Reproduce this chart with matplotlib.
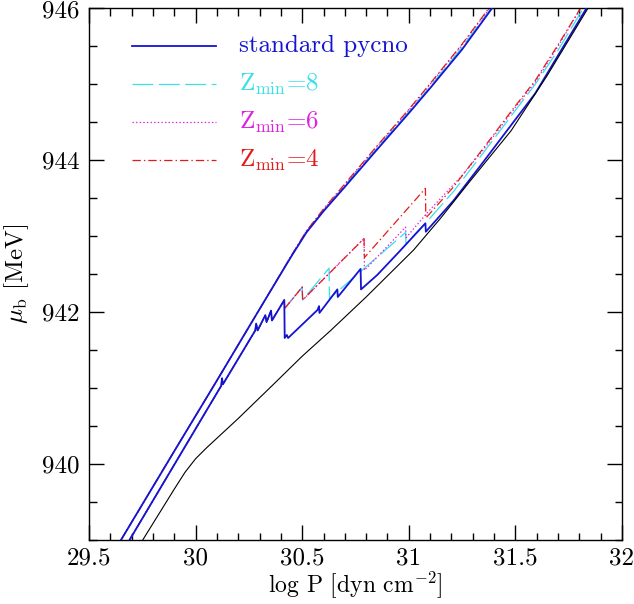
import matplotlib
matplotlib.use("Agg")
import matplotlib.pyplot as plt
from matplotlib.ticker import MultipleLocator, FuncFormatter

plt.rcParams.update({
    "font.family": "serif",
    "font.serif": ["cmr10"],
    "mathtext.fontset": "cm",
    "axes.formatter.use_mathtext": True,
    "lines.scale_dashes": False,
})

BLUE = "#1414d2"
CYAN = "#38e0e8"
MAGENTA = "#e020e0"
RED = "#e41a1a"

# ---- upper branch (all compositions nearly coincide) ----
upper_std_x = [29.65, 29.90, 30.10, 30.30, 30.45, 30.52, 30.60, 30.70, 30.86, 31.00, 31.10, 31.25, 31.39]
upper_std_y = [939.0, 940.17, 941.10, 942.04, 942.74, 943.05, 943.33, 943.65, 944.17, 944.62, 944.95, 945.46, 946.0]
upper_z8_x = [29.65, 29.90, 30.10, 30.30, 30.45, 30.52, 30.60, 30.70, 30.86, 31.00, 31.10, 31.25, 31.385]
upper_z8_y = [939.0, 940.17, 941.10, 942.04, 942.74, 943.06, 943.34, 943.67, 944.19, 944.64, 944.97, 945.49, 946.0]
upper_z6_x = [29.65, 29.90, 30.10, 30.30, 30.45, 30.52, 30.60, 30.70, 30.86, 31.00, 31.10, 31.25, 31.378]
upper_z6_y = [939.0, 940.17, 941.10, 942.04, 942.75, 943.07, 943.35, 943.68, 944.21, 944.66, 945.00, 945.52, 946.0]
upper_z4_x = [29.65, 29.90, 30.10, 30.30, 30.45, 30.52, 30.60, 30.70, 30.86, 31.00, 31.10, 31.25, 31.375]
upper_z4_y = [939.0, 940.17, 941.10, 942.04, 942.75, 943.07, 943.36, 943.69, 944.22, 944.67, 945.01, 945.53, 946.0]

# ---- lower branch with sawtooth ----
lower_shared_x = [29.69, 30.120, 30.124, 30.128, 30.280, 30.284, 30.291, 30.327, 30.333, 30.354, 30.358, 30.416]
lower_shared_y = [939.0, 941.03, 941.13, 941.05, 941.76, 941.85, 941.76, 941.96, 941.87, 942.02, 941.89, 942.16]

std_tail_x = [30.418, 30.428, 30.434, 30.572, 30.579, 30.581, 30.665, 30.667, 30.774, 30.776, 30.852,
              30.953, 31.078, 31.080, 31.21, 31.35, 31.498, 31.593, 31.70, 31.833]
std_tail_y = [941.66, 941.70, 941.66, 942.03, 942.08, 941.99, 942.30, 942.20, 942.57, 942.30, 942.49,
              942.79, 943.17, 943.06, 943.47, 943.98, 944.53, 944.88, 945.38, 946.0]

z8_tail_x = [30.418, 30.500, 30.502, 30.626, 30.628, 30.985, 30.987, 31.10, 31.21, 31.35, 31.498, 31.593, 31.70, 31.818]
z8_tail_y = [942.05, 942.33, 942.16, 942.58, 942.18, 943.05, 942.90, 943.24, 943.59, 944.10, 944.65, 945.00, 945.45, 946.0]

z6_tail_x = [30.418, 30.500, 30.502, 30.790, 30.792, 30.985, 30.987, 31.09, 31.25, 31.35, 31.498, 31.593, 31.70, 31.806]
z6_tail_y = [942.05, 942.33, 942.16, 942.97, 942.55, 943.12, 942.98, 943.32, 943.80, 944.14, 944.69, 945.03, 945.50, 946.0]

z4_tail_x = [30.418, 30.500, 30.502, 30.790, 30.792, 31.078, 31.080, 31.21, 31.35, 31.498, 31.593, 31.70, 31.805]
z4_tail_y = [942.05, 942.33, 942.16, 942.97, 942.72, 943.63, 943.24, 943.65, 944.16, 944.71, 945.05, 945.52, 946.0]

# reference curve (black)
ref_x = [29.752, 29.90, 29.95, 30.00, 30.05, 30.10, 30.20, 30.369, 30.50, 30.634, 30.80, 31.023, 31.15, 31.28, 31.48, 31.65, 31.84]
ref_y = [939.0, 939.67, 939.89, 940.07, 940.21, 940.34, 940.60, 941.06, 941.42, 941.76, 942.2, 942.82, 943.24, 943.70, 944.39, 945.12, 946.0]

labels = ["standard pycno", r"Z$_{\rm min}$=8", r"Z$_{\rm min}$=6", r"Z$_{\rm min}$=4"]

styles = {
    "std": dict(color=BLUE, lw=1.3, ls="-"),
    "z8": dict(color=CYAN, lw=0.9, dashes=(15, 4)),
    "z6": dict(color=MAGENTA, lw=0.9, dashes=(1, 1.6)),
    "z4": dict(color=RED, lw=0.9, dashes=(6, 2.2, 1, 2.2)),
}

fig = plt.figure(figsize=(6.34, 6.04), dpi=100)
ax = fig.add_axes([0.1404, 0.106, 0.8406, 0.880])

# coloured variants underneath
for key, ux, uy, tx, ty in [
    ("z8", upper_z8_x, upper_z8_y, z8_tail_x, z8_tail_y),
    ("z6", upper_z6_x, upper_z6_y, z6_tail_x, z6_tail_y),
    ("z4", upper_z4_x, upper_z4_y, z4_tail_x, z4_tail_y),
]:
    ax.plot(ux, uy, zorder=2, **styles[key])
    ax.plot(lower_shared_x + tx, lower_shared_y + ty, zorder=2, **styles[key])

ax.plot(upper_std_x, upper_std_y, zorder=3, **styles["std"])
ax.plot(lower_shared_x + std_tail_x, lower_shared_y + std_tail_y, zorder=3, **styles["std"])
ax.plot(ref_x, ref_y, color="black", lw=0.8, zorder=3)

# legend drawn by hand, PGPLOT style
for i, (key, lab) in enumerate(zip(["std", "z8", "z6", "z4"], labels)):
    yy = 0.930 - i * 0.072
    ax.plot([0.080, 0.239], [yy, yy], transform=ax.transAxes, **styles[key])
    ax.text(0.282, yy - 0.0126, lab, transform=ax.transAxes, color=styles[key]["color"],
            fontsize=18, va="baseline", ha="left")

ax.set_xlim(29.5, 32)
ax.set_ylim(939, 946)
ax.xaxis.set_major_locator(MultipleLocator(0.5))
ax.xaxis.set_minor_locator(MultipleLocator(0.1))
ax.yaxis.set_major_locator(MultipleLocator(2))
ax.yaxis.set_minor_locator(MultipleLocator(0.5))
ax.xaxis.set_major_formatter(FuncFormatter(lambda v, p: f"{v:g}"))
ax.yaxis.set_major_formatter(FuncFormatter(lambda v, p: f"{v:g}"))
ax.tick_params(which="both", direction="in", top=True, right=True, width=1.0, labelsize=18)
ax.tick_params(which="major", length=10.8, pad=5)
ax.tick_params(axis="y", which="major", pad=7)
ax.tick_params(which="minor", length=5.4)
for s in ax.spines.values():
    s.set_linewidth(1.0)

ax.set_xlabel(r"log P [dyn cm$^{-2}$]", fontsize=17, va="baseline")
ax.xaxis.set_label_coords(0.5, -0.097)
ax.set_ylabel(r"$\mu_{\rm b}$ [MeV]", fontsize=18, labelpad=8)

fig.savefig("out.png", dpi=100)
